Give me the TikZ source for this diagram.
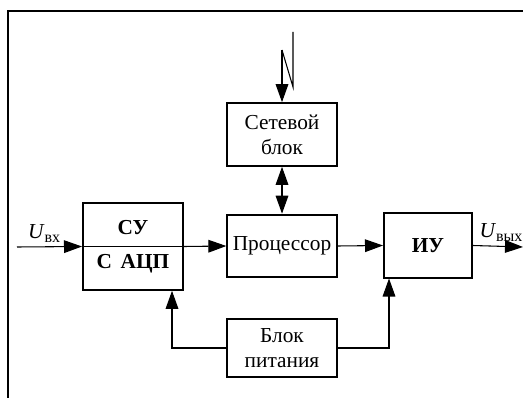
\documentclass[tikz,border=0pt]{standalone}
\usepackage{fontspec}
\setmainfont{Liberation Serif}
\usetikzlibrary{arrows.meta, positioning}
\tikzstyle{block} = [rectangle, line width=1.5pt, draw=black, fill=white, align=center, font=\fontsize{16}{19}\selectfont, inner sep=0pt]
\tikzstyle{arrow} = [-{Triangle[length=13.5pt, width=9.5pt]}, line width=0.8pt]
\tikzstyle{darrow} = [{Triangle[length=13.5pt, width=9.5pt]}-{Triangle[length=13.5pt, width=9.5pt]}, line width=0.8pt]
\tikzstyle{lbl} = [font=\fontsize{16}{19}\selectfont, inner sep=1pt]

\begin{document}
\begin{tikzpicture}[x=0.75pt, y=-0.75pt]

    \useasboundingbox (0, 0) rectangle (523, 398);

    % frame
    \draw [line width=0.8pt] (8, 398) -- (8, 11) -- (523, 11);

    \node (su) [block, minimum width=75pt, minimum height=65pt] at (133, 246.5) {};
    \node (sutop) [lbl, font=\fontsize{16}{19}\selectfont\bfseries] at (133, 228) {СУ};
    \node (subot) [lbl, font=\fontsize{16}{19}\selectfont\bfseries] at (133, 264) {С\hspace{0.4em}АЦП};
    \node (proc) [block, minimum width=82pt, minimum height=47pt] at (282, 246) {Процессор};
    \node (net) [block, minimum width=82pt, minimum height=47pt] at (282, 134.5) {Сетевой\\блок};
    \node (iu) [block, minimum width=66pt, minimum height=48pt, font=\fontsize{16}{19}\selectfont\bfseries] at (428, 245.5) {ИУ};
    \node (pit) [block, minimum width=82pt, minimum height=44pt] at (282, 348) {Блок\\питания};

    \coordinate (in) at (17, 247);
    \coordinate (out) at (523, 247);
    \coordinate (ant1) at (293, 32);
    \coordinate (ant2) at (293, 87);
    \coordinate (ant3) at (282, 50);

    \draw [line width=0.8pt] (su.west) -- (su.east);
    \draw [arrow] (in) -- node[lbl, above, xshift=-4pt, yshift=2pt] {\textit{U}\raisebox{-0.35ex}{\fontsize{12}{14}\selectfont вх}} (su.west);
    \draw [arrow] (su.east) -- (proc.west);
    \draw [arrow] (proc.east) -- (iu.west);
    \draw [arrow] (iu.east) -- node[lbl, above left, pos=1, xshift=1pt, yshift=3pt] {\textit{U}\raisebox{-0.35ex}{\fontsize{12}{14}\selectfont вых}} (out);

    \draw [line width=0.8pt] (ant1) -- (ant2) -- (ant3);
    \draw [arrow] (ant3) -- (net.north);
    \draw [darrow] (net.south) -- (proc.north);

    \draw [arrow] (pit.west) -| ([xshift=-9pt]su.south east);
    \draw [arrow] (pit.east) -| ([xshift=4.5pt]iu.south west);

\end{tikzpicture}
\end{document}
